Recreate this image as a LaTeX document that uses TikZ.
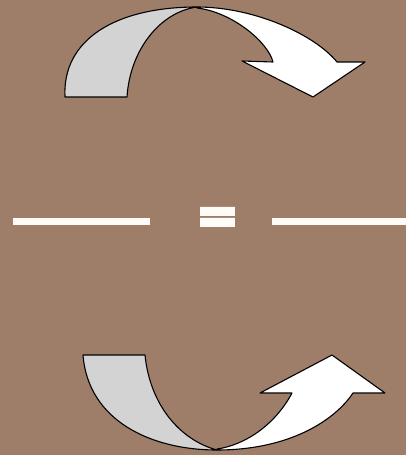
\documentclass[tikz,border=0pt]{standalone}
\usepackage{fontspec}
\newfontfamily\signfont{DejaVu Sans}
\definecolor{boardbrown}{HTML}{9E7D69}
\definecolor{tailgrey}{HTML}{D3D3D3}
\definecolor{chalkwhite}{HTML}{FFFCF8}
% heavier strokes for the sign, as text
\newcommand{\heavysign}[1]{\special{pdf:literal direct 2 Tr 3.2 w}#1\special{pdf:literal direct 0 Tr}}
\tikzset{
  piece/.style={draw=black,line width=1.1pt,line join=round},
  tailpiece/.style={piece,fill=tailgrey},
  headpiece/.style={piece,fill=white},
  blankline/.style={draw=chalkwhite,line width=7pt},
  signtext/.style={text=chalkwhite,inner sep=0pt,font=\signfont\bfseries\fontsize{50}{50}\selectfont}
}

\begin{document}
\begin{tikzpicture}[x=1pt,y=-1pt]
  % Board background fixes the page size.
  \fill[boardbrown] (0,0) rectangle (406,455);
  \useasboundingbox (0,0) rectangle (406,455);

  % Upper arrow: grey tail rising, white head bending down.
  \draw[headpiece] (197,7) .. controls (255,7) and (315,35) .. (337,62)
    -- (365,62) -- (313,97) -- (242,61) -- (273,62)
    .. controls (268,42) and (232,12) .. (197,8) -- cycle;
  \draw[tailpiece] (65,97) .. controls (62,40) and (115,7) .. (197,7)
    .. controls (160,12) and (130,50) .. (127,97) -- cycle;

  % Two blanks either side of the sign.
  \draw[blankline] (13,221) -- (150,221);
  \draw[blankline] (272,221) -- (406,221);
  \node[signtext] (equalsign) at (217.5,220.5) {\heavysign{=}};

  % Lower arrow: grey tail dropping, white head bending up.
  \draw[headpiece] (217,450) .. controls (290,450) and (335,420) .. (353,393)
    -- (385,393) -- (332,355) -- (260,393) -- (292,393)
    .. controls (275,425) and (245,445) .. (217,449) -- cycle;
  \draw[tailpiece] (83,355) .. controls (88,420) and (150,450) .. (217,450)
    .. controls (180,440) and (150,405) .. (145,355) -- cycle;
\end{tikzpicture}
\end{document}
